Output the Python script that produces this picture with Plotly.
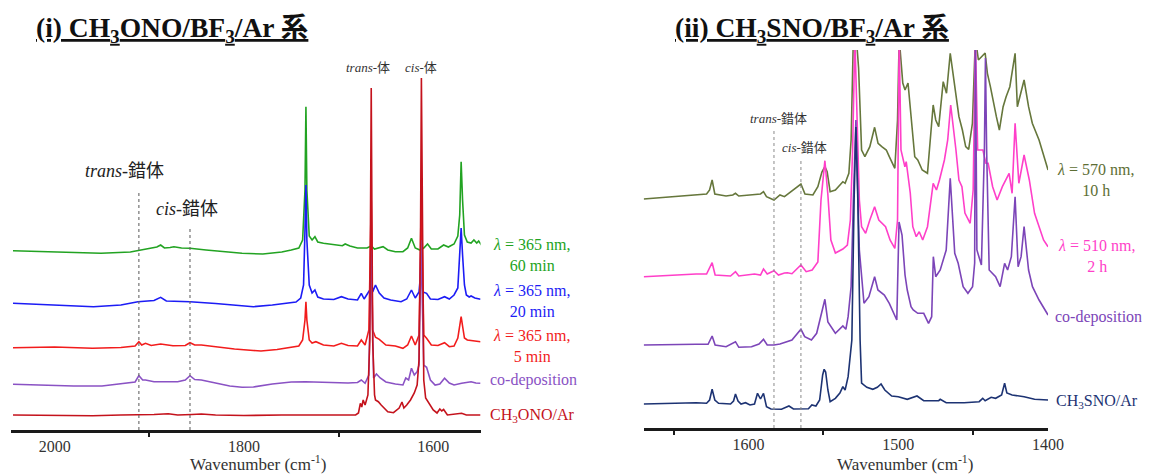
import plotly.graph_objects as go

# ---------------- Panel (i): CH3ONO/BF3/Ar  (wavenumber cm-1, absorbance a.u.) ----------------
irr60_wn = [2044, 1990, 1951, 1920, 1900, 1892, 1888, 1884, 1878, 1874, 1866, 1857, 1840, 1820, 1802, 1780,
            1767, 1760, 1750, 1742, 1738, 1735.5, 1734.5, 1733.5, 1731, 1728, 1725, 1722, 1716, 1705, 1696,
            1693, 1688, 1680, 1670, 1665.5, 1662, 1653, 1648, 1640, 1632, 1627, 1623, 1619, 1614, 1610, 1606,
            1602, 1595, 1589, 1584, 1578, 1574, 1572, 1570.5, 1569, 1567, 1564, 1560, 1557, 1554, 1552, 1549]
irr60_ab = [179.3, 178, 176.7, 178, 182, 183, 185, 182, 182.5, 183.3, 182, 181.7, 180, 178, 176.7, 176,
            177, 178, 180, 182, 190, 240, 323.3, 240, 194, 190, 193.3, 188, 186.7, 185, 184.3,
            186, 184, 182, 182, 184, 181, 183.3, 180, 178.3, 178.3, 182, 191.7, 182, 180, 182, 186,
            181, 181, 185, 183, 186, 194, 215, 268.3, 230, 195, 188, 187, 190, 187, 189, 185]

irr20_wn = [2044, 2000, 1959, 1930, 1912, 1895, 1888, 1882, 1870, 1857, 1830, 1800, 1790, 1770, 1755, 1745,
            1740, 1737, 1735.5, 1734.5, 1733.5, 1731, 1728, 1725, 1722, 1716, 1705, 1697, 1690, 1680, 1676,
            1673, 1667, 1665.5, 1664, 1661, 1657, 1652, 1645, 1634, 1628, 1623, 1619, 1615, 1613, 1611, 1607,
            1603, 1595, 1588, 1583, 1578, 1574, 1572, 1570.5, 1569, 1567, 1565, 1562, 1560, 1556, 1550]
irr20_ab = [126.7, 125, 123.3, 125, 128.3, 129.5, 132.7, 129, 129, 128.3, 126.5, 124, 123.3, 125, 127, 128,
            132, 145, 200, 245, 190, 145, 137, 140, 133, 131, 130.5, 133.3, 131, 130, 136.7,
            131, 140, 158, 138, 145, 137, 132, 130, 128.3, 131, 140, 132, 138, 160, 138, 136.7,
            131, 130.5, 133.3, 131, 135, 142, 170, 202, 175, 145, 135, 133, 134, 132, 130.7]

irr5_wn = [2044, 2000, 1960, 1930, 1915, 1911, 1908, 1904, 1898, 1888, 1875, 1862, 1857, 1852, 1845, 1830,
           1810, 1790, 1782, 1765, 1750, 1742, 1738, 1735.5, 1734.5, 1733.5, 1731, 1728, 1724, 1716, 1705,
           1697, 1690, 1680, 1676, 1672, 1668, 1665.5, 1664, 1661, 1657, 1650, 1640, 1632, 1627, 1623, 1619,
           1615, 1612.5, 1610, 1607, 1602, 1595, 1588, 1583, 1578, 1574, 1572, 1570.5, 1569, 1567, 1564,
           1560, 1555, 1550]
irr5_ab = [82.3, 83, 81.7, 82.5, 84, 88.3, 85, 86.7, 84.5, 86, 84.3, 84.5, 87.3, 85, 85, 83,
           81, 79.5, 79, 80.5, 83, 84, 90, 110, 128.3, 110, 90, 87, 88.3, 85, 84,
           86.7, 84.5, 84, 90, 85, 100, 230, 100, 92.7, 90.7, 85, 84, 81.7, 85, 94, 85,
           95, 240, 95, 91.7, 85, 84.5, 87.3, 83.3, 84, 92, 105, 113.3, 104, 92, 90,
           89.3, 88.7, 88.3]

codep1_wn = [2044, 2000, 1980, 1950, 1925, 1915, 1911, 1907, 1904, 1895, 1880, 1870, 1862, 1857, 1852, 1845,
             1830, 1815, 1802, 1790, 1770, 1750, 1735, 1720, 1700, 1690, 1680, 1676, 1672, 1668, 1665.5,
             1663, 1660, 1656, 1650, 1645, 1640, 1632, 1629, 1626, 1623, 1620, 1617, 1615, 1613, 1610, 1607,
             1603, 1598, 1593, 1588, 1583, 1578, 1570, 1565, 1560, 1555, 1550]
codep1_ab = [45.7, 44.5, 44, 44, 47, 48, 54.3, 50, 50, 48.3, 48.3, 48.3, 50, 54.3, 50.5, 50,
             47, 44, 42.7, 43, 46, 48, 48.3, 48, 47, 47, 47.5, 50, 46.7, 55, 180,
             52, 56, 52, 48, 46.7, 46, 45, 52, 50, 61.7, 55, 58.3, 65, 190, 65, 62.7,
             50, 45, 46, 51.7, 47, 45, 46.7, 47.5, 48.3, 47, 46.7]

ch3ono_wn = [2044, 2000, 1960, 1930, 1911, 1895, 1880, 1870, 1855, 1845, 1830, 1800, 1760, 1720, 1690, 1682,
             1679, 1677, 1675.5, 1674, 1672, 1669, 1667, 1665.5, 1664, 1662, 1661, 1658, 1655, 1648, 1642,
             1636, 1633, 1631, 1628, 1624, 1620, 1617, 1615, 1613.5, 1612.5, 1611, 1610, 1608, 1605, 1600,
             1596, 1593, 1591, 1589, 1585, 1575, 1570, 1565, 1550]
ch3ono_ab = [15, 14.5, 14.3, 15, 15, 15.5, 16.3, 15, 15.5, 16, 15, 14.5, 15, 15, 15, 15,
             17, 26.7, 23, 30, 25, 35, 90, 342, 90, 35, 30, 28.3, 25, 18.3, 17.3,
             22, 28, 22, 25, 30, 37, 45, 70, 180, 352, 180, 50, 32, 27, 20,
             17, 21, 19, 20.5, 15, 16, 16.7, 15, 15]

ticks1 = [2000, 1800, 1600]
minor1 = [1900, 1700]
complex1_wn = [1911, 1857]          # trans- / cis-complex markers
complex1_top = [238, 202]

# ---------------- Panel (ii): CH3SNO/BF3/Ar ----------------
irr570_wn = [1670, 1650, 1634.7, 1628, 1626, 1624.3, 1622.5, 1615, 1610.5, 1608.7, 1606.5, 1596, 1592, 1590,
             1588, 1583, 1579, 1576, 1573, 1565, 1562.3, 1557, 1553.7, 1551, 1549, 1547.5, 1545.5, 1542, 1537,
             1535.5, 1533, 1531.5, 1530, 1528, 1526.5, 1525.5, 1524.5, 1522.3, 1519, 1515.8, 1513.5, 1511,
             1508, 1506, 1502.3, 1500.5, 1499.4, 1497, 1495.5, 1493.5, 1491, 1489, 1487, 1484, 1480.5, 1478.5,
             1476.7, 1475, 1473, 1470, 1467.8, 1465.3, 1463.5, 1461.5, 1459.5, 1457.2, 1455, 1453, 1450.5,
             1448.5, 1446.5, 1442, 1440.5, 1438.5, 1436.5, 1434.5, 1432.5, 1430, 1428, 1425.5, 1422, 1420.5,
             1416, 1413, 1410.5, 1406, 1400]
irr570_ab = [229, 231.3, 233, 234, 238, 248, 234, 232, 233, 234.7, 232, 233, 234, 236.3,
             231.3, 228, 233, 231.3, 234.7, 244, 234, 233, 241.3, 256, 261.3, 256.3, 236.3, 238, 246.3,
             244.7, 254.7, 288, 390, 390, 360, 308, 278, 271.3, 281.3, 300.7, 284.7, 281.3,
             278, 271.3, 259.7, 308, 390, 345, 338, 345, 305, 271.3, 268, 258, 254.7, 288,
             323, 308, 301.3, 346.3, 334.7, 374.7, 354.7, 328, 311.3, 298, 281.3, 278.7, 304.7,
             390, 368, 375, 354.7, 341.3, 324.7, 311.3, 298, 321.3, 331.3, 341.3, 374.7, 321.3,
             348, 321.3, 304.7, 288, 258]

irr510_wn = [1670, 1650, 1635, 1628, 1624.3, 1622.3, 1612, 1608.7, 1606.5, 1596, 1592, 1590, 1587.5, 1583,
             1580, 1576, 1574, 1571, 1565, 1561.5, 1557.5, 1553.7, 1551.6, 1549, 1547, 1545, 1542, 1537, 1534,
             1532, 1530.5, 1529, 1527.5, 1526, 1524.5, 1521.8, 1519, 1515.8, 1513, 1508.5, 1505.5, 1502.3,
             1500.5, 1499.4, 1498.2, 1496.5, 1495.6, 1494.7, 1492, 1490.3, 1488, 1486, 1483.7, 1480.5, 1476.7,
             1474.5, 1472.5, 1469.2, 1467, 1465, 1463.5, 1461.5, 1459.5, 1457.5, 1455.5, 1452, 1450, 1448.5,
             1447, 1443.5, 1441.5, 1440, 1437, 1434, 1430.5, 1426, 1424, 1422, 1419.5, 1416, 1412.5, 1409,
             1403, 1400]
irr510_ab = [151.3, 153, 154, 154, 165.3, 153, 152, 156.3, 152, 154, 153, 159, 154, 157.3,
             153, 155, 155.3, 154.3, 163, 156.3, 158, 166, 228, 267.3, 233, 188, 175, 179, 183,
             208, 278, 390, 308, 228, 201.3, 194.7, 208, 221.3, 208, 201.3, 188, 179.7,
             208, 390, 278, 264.7, 261.3, 266.3, 235, 201.3, 191.3, 196.3, 188, 201.3, 244.7,
             238, 248, 268, 288, 323, 305, 278, 248, 241.3, 215, 204.7, 238, 390,
             278, 278, 264.7, 264.7, 241.3, 228, 241.3, 254.7, 234.7, 304.7, 244.7, 273, 248, 214.7,
             188, 181.3]

codep2_wn = [1670, 1650, 1635, 1627, 1624.3, 1622.3, 1615, 1608.7, 1606.5, 1598, 1593, 1590, 1587.5, 1583,
             1579, 1571, 1565, 1562.5, 1558, 1554.5, 1551, 1549, 1547, 1542, 1537, 1535, 1533.5, 1531.5, 1530,
             1528.3, 1526, 1522.9, 1519.6, 1515.8, 1513.6, 1509.3, 1506, 1502.4, 1501, 1499.5, 1497.5, 1495.5,
             1494, 1491.5, 1490, 1487, 1483, 1479.8, 1477.7, 1476.6, 1475, 1472, 1468, 1465.3, 1462.3, 1460,
             1456.7, 1453.5, 1450.4, 1449, 1448.5, 1447.5, 1444.5, 1442.5, 1441.8, 1441, 1439.3, 1435, 1432,
             1429, 1427, 1424.5, 1422, 1420, 1418, 1416, 1413, 1410.4, 1406, 1400]
codep2_ab = [83, 83.7, 83.7, 83.7, 92, 83, 81.3, 86.3, 80.7, 81.3, 84, 88.7, 83, 83,
             84, 88, 98.7, 91.3, 88, 94.7, 118, 128.7, 106, 94.7, 102, 98.7, 111.3, 141.3, 228,
             308, 178, 124.7, 131.3, 151.3, 138, 133, 124.7, 111.3, 108, 206, 193, 153,
             138, 121.3, 118, 114.7, 114.7, 104.7, 111.3, 171.3, 151.3, 158, 178, 249.7, 174.7, 164.7,
             141.3, 134.7, 141.3, 165, 390, 178, 163, 278, 370, 278, 158, 151.3, 141.3,
             164.7, 158, 171.3, 231.3, 161.3, 171.3, 201.3, 158, 141.3, 128, 113]

ch3sno_wn = [1670, 1650, 1635, 1628, 1626, 1624.3, 1622.5, 1620, 1612, 1610, 1608.7, 1607, 1605, 1602, 1599,
             1596, 1594, 1592, 1590, 1588, 1585, 1578, 1573, 1570, 1560, 1557.7, 1555, 1552.5, 1550.5, 1549.5,
             1548.5, 1547, 1545.5, 1542, 1539, 1537, 1535.5, 1533.5, 1531, 1529.5, 1528.3, 1527, 1525.5,
             1524.5, 1521, 1517, 1514, 1511.5, 1509, 1504.4, 1500, 1494, 1487.5, 1483, 1473, 1472, 1468, 1456,
             1446, 1443.6, 1442, 1438, 1435, 1431, 1429, 1427.5, 1424, 1416, 1409, 1400]
ch3sno_ab = [24, 24.7, 25.3, 24.7, 28, 38.7, 28, 24.7, 24, 27, 34, 27, 24, 25.3, 23,
             24, 34.7, 29, 34.7, 21.3, 19, 18.7, 22, 19, 19.3, 23, 22, 28, 53, 58.7,
             56, 38, 26.3, 29.7, 35, 41.3, 38, 51.3, 88, 228, 301, 228, 88,
             45, 40.7, 38.7, 40.7, 44, 38, 32, 31.3, 28.7, 32, 27.3, 27.3, 28.7, 25.3, 25.3,
             26.3, 29.7, 27.3, 30.7, 29.7, 33, 44.7, 35, 33, 31.3, 28.7, 28]

ticks2 = [1600, 1500, 1400]
minor2 = [1650, 1550, 1450]
complex2_wn = [1583, 1565]
complex2_top = [297, 267]

# ---------------- figure ----------------
# The page keeps the browser's default 8 px body margin; the photographed page also comes out
# about 1.5 % narrower than laid out, so horizontal layout positions are stretched by KX.
OFF = 8
KX = 1.015
W, H = int(round(1150 * KX)) - 2 * OFF, 475 - OFF
SERIF = "Liberation Serif"
CJK = "Liberation Serif, Noto Sans CJK JP"

fig = go.Figure()

left = [
    (irr60_wn, irr60_ab, "#22a322"),
    (irr20_wn, irr20_ab, "#1c1cf5"),
    (irr5_wn, irr5_ab, "#f21c1c"),
    (codep1_wn, codep1_ab, "#8a52c4"),
    (ch3ono_wn, ch3ono_ab, "#c4121c"),
]
for xs, ys, c in left:
    fig.add_trace(go.Scatter(x=xs, y=ys, mode="lines", line=dict(color=c, width=1.6),
                             xaxis="x", yaxis="y", showlegend=False, hoverinfo="skip"))

right = [
    (irr570_wn, irr570_ab, "#66773c"),
    (irr510_wn, irr510_ab, "#ff3fc9"),
    (codep2_wn, codep2_ab, "#7c45b8"),
    (ch3sno_wn, ch3sno_ab, "#1d3373"),
]
for xs, ys, c in right:
    fig.add_trace(go.Scatter(x=xs, y=ys, mode="lines", line=dict(color=c, width=1.6),
                             xaxis="x2", yaxis="y2", showlegend=False, hoverinfo="skip"))

for wn, top in zip(complex1_wn, complex1_top):
    fig.add_shape(type="line", xref="x", yref="y", x0=wn, x1=wn, y0=0, y1=top,
                  line=dict(color="#666666", width=1.1, dash="dot"))
for wn, top in zip(complex2_wn, complex2_top):
    fig.add_shape(type="line", xref="x2", yref="y2", x0=wn, x1=wn, y0=0, y1=top,
                  line=dict(color="#8a8a8a", width=1, dash="dot"))


def px(x):
    return (x * KX - OFF) / W


def py(y):
    return (H - (y - OFF)) / H


axis_common = dict(showgrid=False, zeroline=False, showline=True, linecolor="#1a1a1a", linewidth=2.6,
                   ticks="", tickfont=dict(family=SERIF, size=16, color="#333333"))

fig.update_layout(
    width=W, height=H, margin=dict(l=0, r=0, t=0, b=0),
    paper_bgcolor="white", plot_bgcolor="white",
    font=dict(family=SERIF),
    xaxis=dict(domain=[px(11), px(480)], range=[2046, 1550], anchor="y",
               tickvals=ticks1, ticktext=[str(t) for t in ticks1],
               minor=dict(tickvals=minor1, ticks="outside", ticklen=4, tickwidth=1.5, tickcolor="#1a1a1a",
                          showgrid=False),
               **axis_common),
    yaxis=dict(domain=[py(430), py(50)], range=[0, 380], visible=False),
    xaxis2=dict(domain=[px(643), px(1047)], range=[1670, 1400], anchor="y2",
                tickvals=ticks2, ticktext=[str(t) for t in ticks2],
                minor=dict(tickvals=minor2, ticks="outside", ticklen=4, tickwidth=1.5, tickcolor="#1a1a1a",
                           showgrid=False),
                **axis_common),
    yaxis2=dict(domain=[py(428), py(50)], range=[0, 378], visible=False),
)

ann = []


def add(text, x, y, size, color="#222222", xanchor="center", family=SERIF, align="center"):
    ann.append(dict(text=text, x=px(x), y=py(y), xref="paper", yref="paper", showarrow=False,
                    xanchor=xanchor, yanchor="middle", align=align,
                    font=dict(family=family, size=size, color=color)))


# titles
add("<b><u>(i) CH<sub>3</sub>ONO/BF<sub>3</sub>/Ar 系</u></b>", 34, 29, 27.5, "#111111", xanchor="left", family=CJK)
add("<b><u>(ii) CH<sub>3</sub>SNO/BF<sub>3</sub>/Ar 系</u></b>", 672, 29, 27.5, "#111111", xanchor="left", family=CJK)

# axis titles
add("Wavenumber (cm<sup>-1</sup>)", 258, 463, 17, "#333333")
add("Wavenumber (cm<sup>-1</sup>)", 904, 463, 17, "#333333")

# panel (i) annotations
add("<i>trans</i>-体", 368, 68, 13, "#333333", family=CJK)
add("<i>cis</i>-体", 421, 68, 13, "#333333", family=CJK)
add("<i>trans</i>-錯体", 124, 171, 18, "#222222", family=CJK)
add("<i>cis</i>-錯体", 187, 209, 18, "#222222", family=CJK)

add("<i>λ</i> = 365 nm,<br>60 min", 531, 255, 16, "#22a322")
add("<i>λ</i> = 365 nm,<br>20 min", 531, 301, 16, "#1c1cf5")
add("<i>λ</i> = 365 nm,<br>5 min", 531, 346, 16, "#f21c1c")
add("co-deposition", 487, 380, 16, "#8a52c4", xanchor="left")
add("CH<sub>3</sub>ONO/Ar", 487, 415, 16, "#c4121c", xanchor="left")

# panel (ii) annotations
add("<i>trans</i>-錯体", 778, 118, 13, "#333333", family=CJK)
add("<i>cis</i>-錯体", 804, 147, 13, "#333333", family=CJK)
add("<i>λ</i> = 570 nm,<br>10 h", 1094, 180, 16, "#5d6e34")
add("<i>λ</i> = 510 nm,<br>2 h", 1095, 256, 16, "#ff3fc9")
add("co-deposition", 1052, 317, 16, "#7c45b8", xanchor="left")
add("CH<sub>3</sub>SNO/Ar", 1053, 401, 16, "#1d3373", xanchor="left")

fig.update_layout(annotations=ann)
fig.write_html("out.html", config={"displayModeBar": False})
